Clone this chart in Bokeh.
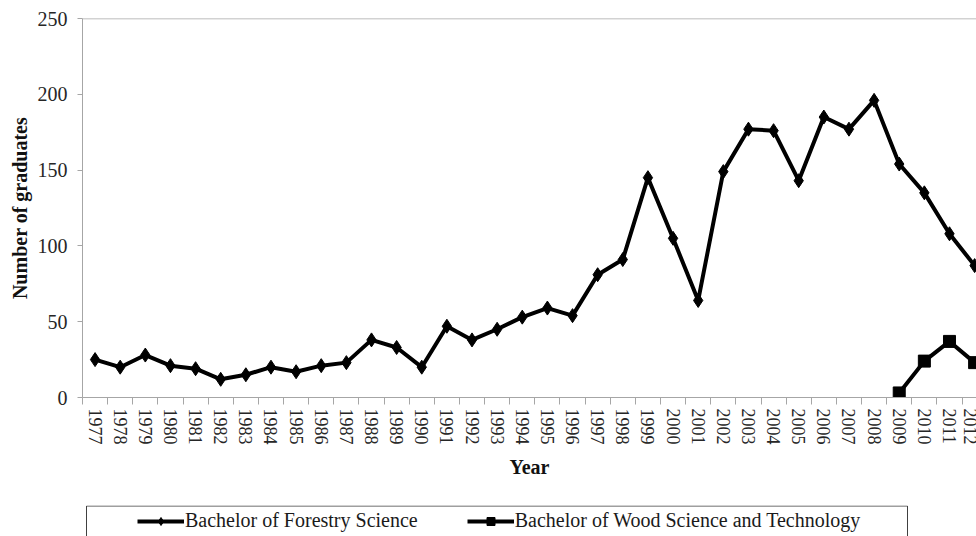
from bokeh.plotting import figure
from bokeh.models import Range1d, FixedTicker, Span, Legend, LegendItem, BoxAnnotation
from bokeh.layouts import column
from bokeh.embed import file_html
from bokeh.resources import INLINE

years = list(range(1977, 2013))
forestry = [25, 20, 28, 21, 19, 12, 15, 20, 17, 21, 23, 38, 33, 20, 47, 38, 45, 53,
            59, 54, 81, 91, 145, 105, 64, 149, 177, 176, 143, 185, 177, 196, 154, 135, 108, 87]
wood_years = [2009, 2010, 2011, 2012]
wood = [3, 24, 37, 23]
y_ticks = [0, 50, 100, 150, 200, 250]
series_names = ["Bachelor of Forestry Science", "Bachelor of Wood Science and Technology"]

FONT = "Liberation Serif"
AXIS_GRAY = "#a6a6a6"

# ---------------- main chart ----------------
p = figure(width=976, height=505, output_backend="svg", toolbar_location=None,
           x_range=Range1d(years[0] - 0.5, years[0] - 0.5 + 35.575),
           y_range=Range1d(y_ticks[0], y_ticks[-1]),
           min_border_left=82, min_border_right=0, min_border_top=18, min_border_bottom=108)
p.outline_line_color = None
p.xgrid.visible = False
p.ygrid.visible = False

# x axis (labels at category centres, tick marks between categories)
xa = p.xaxis[0]
xa.ticker = FixedTicker(ticks=years, minor_ticks=[y - 0.5 for y in years] + [years[-1] + 0.5])
xa.major_label_orientation = "vertical"
xa.major_tick_out = 0
xa.major_tick_in = 0
xa.minor_tick_out = 7
xa.minor_tick_in = 0
xa.minor_tick_line_color = AXIS_GRAY
xa.axis_line_color = AXIS_GRAY
xa.major_label_standoff = 4
xa.major_label_text_font = FONT
xa.major_label_text_font_size = "18px"
xa.major_label_text_color = "#262626"
xa.axis_label = "Year"
xa.axis_label_text_font = FONT
xa.axis_label_text_font_style = "bold"
xa.axis_label_text_font_size = "20px"
xa.axis_label_text_color = "#111111"
xa.axis_label_standoff = 8

# y axis
ya = p.yaxis[0]
ya.ticker = FixedTicker(ticks=y_ticks)
ya.minor_tick_line_color = None
ya.major_tick_out = 5
ya.major_tick_in = 0
ya.major_tick_line_color = AXIS_GRAY
ya.axis_line_color = AXIS_GRAY
ya.major_label_standoff = 10
ya.major_label_text_font = FONT
ya.major_label_text_font_size = "20px"
ya.major_label_text_color = "#262626"
ya.axis_label = "Number of graduates"
ya.axis_label_text_font = FONT
ya.axis_label_text_font_style = "bold"
ya.axis_label_text_font_size = "20px"
ya.axis_label_text_color = "#111111"
ya.axis_label_standoff = 4

# top border line of the plot area
p.add_layout(Span(location=y_ticks[-1], dimension="width", line_color=AXIS_GRAY, line_width=1.5))

p.line(years, forestry, line_color="black", line_width=4)
p.scatter(years, forestry, marker="diamond", size=14, fill_color="black", line_color="black")
p.line(wood_years, wood, line_color="black", line_width=4)
p.scatter(wood_years, wood, marker="square", size=12, fill_color="black", line_color="black")

# ---------------- legend strip ----------------
# strip ranges are in pixels of its frame (which lines up with the chart frame)
lg = figure(width=976, height=31, output_backend="svg", toolbar_location=None,
            x_axis_location=None, y_axis_location=None,
            x_range=Range1d(0, 894), y_range=Range1d(0, 31),
            min_border_left=82, min_border_right=0, min_border_top=0, min_border_bottom=0)
lg.grid.visible = False
lg.outline_line_color = None

# legend frame box
lg.add_layout(BoxAnnotation(left=4, right=825, top=30.5, bottom=-5,
                            fill_color=None, fill_alpha=0,
                            line_color="#404040", line_width=1, line_alpha=1))

# series renderers for the legend glyphs (their data lie outside this strip's ranges)
r1 = lg.line(years, forestry, line_color="black", line_width=4)
m1 = lg.scatter(years, forestry, marker="diamond", size=14, fill_color="black", line_color="black")
r2 = lg.line(wood_years, wood, line_color="black", line_width=4)
m2 = lg.scatter(wood_years, wood, marker="square", size=12, fill_color="black", line_color="black")

legend = Legend(items=[LegendItem(label=series_names[0], renderers=[r1, m1]),
                       LegendItem(label=series_names[1], renderers=[r2, m2])],
                orientation="horizontal", location=(55, 4), padding=0, spacing=49,
                glyph_width=47, glyph_height=20, label_height=20, label_standoff=1, margin=0,
                border_line_color=None, background_fill_alpha=0,
                label_text_font=FONT, label_text_font_size="20px", label_text_color="#1a1a1a")
lg.add_layout(legend, "center")

layout = column(p, lg, spacing=0)
open("out.html", "w").write(file_html(layout, INLINE))
